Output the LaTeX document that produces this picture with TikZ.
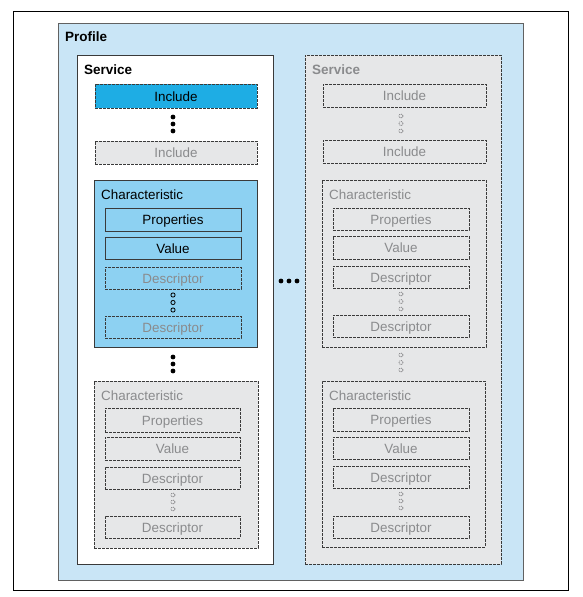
\documentclass[tikz,border=0pt]{standalone}
\usepackage{fontspec}
\setmainfont{Liberation Sans}
\definecolor{profblue}{HTML}{C9E5F6}
\definecolor{incblue}{HTML}{1EADE4}
\definecolor{charblue}{HTML}{8DD1F2}
\definecolor{greyfill}{HTML}{E6E7E8}
\definecolor{greytext}{HTML}{8A8B8D}
\definecolor{edge}{HTML}{3A3A3A}
\newcommand\mybx[7]{\node[#6, minimum width={(#4)-(#2)}, minimum height={(#5)-(#3)}] (#1) at ({((#2)+(#4))/2},{((#3)+(#5))/2}) {#7};}
\tikzset{
  base/.style={rectangle, inner sep=0pt, line width=0.9pt, draw=edge, text height=10pt, text depth=0pt, font=\fontsize{13.4}{15}\selectfont},
  solidbox/.style={base},
  dashbox/.style={base, dash pattern=on 2.6pt off 1.4pt},
  lbl/.style={inner sep=0pt, anchor=base west, font=\fontsize{13.4}{15}\selectfont},
  blbl/.style={lbl, font=\fontsize{13.5}{15}\selectfont\bfseries},
  fdot/.style={circle, fill=black, inner sep=0pt, minimum size=4.8pt},
  hdot/.style={circle, draw=black, line width=0.8pt, inner sep=0pt, minimum size=4.2pt},
  gdot/.style={circle, draw=greytext!70!black, line width=0.6pt, dash pattern=on 1pt off 0.9pt, inner sep=0pt, minimum size=4pt},
}
\begin{document}
\begin{tikzpicture}[x=1pt,y=-1pt]
\useasboundingbox (0,0) rectangle (583,597);
% outer frame
\mybx{frame}{13}{11}{568}{590}{base, line width=1pt, draw=black}{}
% profile
\mybx{profile}{58}{23}{523}{580}{solidbox, fill=profblue, draw=edge!80}{}
\node[blbl] (profilelbl) at (65,41) {Profile};
% ---------- left service ----------
\mybx{svcL}{77}{55}{273}{564}{solidbox, fill=white}{}
\node[blbl] (svcLlbl) at (84,74) {Service};
\mybx{incL1}{95}{84}{257}{108}{dashbox, fill=incblue}{Include}
\node[fdot] (dL1) at (173,117) {};
\node[fdot] (dL2) at (173,124) {};
\node[fdot] (dL3) at (173,131) {};
\mybx{incL2}{95}{141}{257}{164}{dashbox, fill=greyfill, text=greytext}{Include}
% blue characteristic
\mybx{chL1}{94}{180}{257}{347}{solidbox, fill=charblue}{}
\node[lbl] (chL1lbl) at (101,199) {Characteristic};
\mybx{propL1}{105}{208}{241}{231}{solidbox, fill=charblue}{Properties}
\mybx{valL1}{105}{237}{241}{259}{solidbox, fill=charblue}{Value}
\mybx{desL1a}{105}{267}{241}{289}{dashbox, fill=charblue, text=greytext}{Descriptor}
\node[hdot] (hL1) at (173,295) {};
\node[hdot] (hL2) at (173,302.5) {};
\node[hdot] (hL3) at (173,310) {};
\mybx{desL1b}{105}{316}{241}{338}{dashbox, fill=charblue, text=greytext}{Descriptor}
\node[fdot] (dL4) at (173,357) {};
\node[fdot] (dL5) at (173,364) {};
\node[fdot] (dL6) at (173,371) {};
% grey characteristic
\mybx{chL2}{94}{381}{258}{548}{dashbox, fill=greyfill}{}
\node[lbl, text=greytext] (chL2lbl) at (101,400) {Characteristic};
\mybx{propL2}{105}{408}{240}{432}{dashbox, fill=greyfill, text=greytext}{Properties}
\mybx{valL2}{105}{437}{240}{460}{dashbox, fill=greyfill, text=greytext}{Value}
\mybx{desL2a}{105}{467}{240}{489}{dashbox, fill=greyfill, text=greytext}{Descriptor}
\node[gdot] (gL1) at (173,495) {};
\node[gdot] (gL2) at (173,502) {};
\node[gdot] (gL3) at (173,509) {};
\mybx{desL2b}{105}{516}{240}{538}{dashbox, fill=greyfill, text=greytext}{Descriptor}
% ellipsis
\node[fdot] (e1) at (281,281) {};
\node[fdot] (e2) at (289,281) {};
\node[fdot] (e3) at (297,281) {};
% ---------- right service ----------
\mybx{svcR}{305}{55}{501}{564}{dashbox, fill=greyfill}{}
\node[blbl, text=greytext] (svcRlbl) at (312,74) {Service};
\mybx{incR1}{323}{84}{486}{107}{dashbox, fill=greyfill, text=greytext}{Include}
\node[gdot] (gR1) at (401,116) {};
\node[gdot] (gR2) at (401,123.5) {};
\node[gdot] (gR3) at (401,131) {};
\mybx{incR2}{323}{140}{486}{163}{dashbox, fill=greyfill, text=greytext}{Include}
\mybx{chR1}{322}{180}{486}{347}{dashbox, fill=greyfill}{}
\node[lbl, text=greytext] (chR1lbl) at (329,199) {Characteristic};
\mybx{propR1}{333}{208}{469}{230}{dashbox, fill=greyfill, text=greytext}{Properties}
\mybx{valR1}{333}{236}{469}{259}{dashbox, fill=greyfill, text=greytext}{Value}
\mybx{desR1a}{333}{266}{469}{288}{dashbox, fill=greyfill, text=greytext}{Descriptor}
\node[gdot] (gR4) at (401,294) {};
\node[gdot] (gR5) at (401,301.5) {};
\node[gdot] (gR6) at (401,309) {};
\mybx{desR1b}{333}{315}{469}{337}{dashbox, fill=greyfill, text=greytext}{Descriptor}
\node[gdot] (gR7) at (401,355) {};
\node[gdot] (gR8) at (401,362.5) {};
\node[gdot] (gR9) at (401,370) {};
\mybx{chR2}{322}{381}{485}{547}{dashbox, fill=greyfill}{}
\node[lbl, text=greytext] (chR2lbl) at (329,400) {Characteristic};
\mybx{propR2}{333}{408}{469}{431}{dashbox, fill=greyfill, text=greytext}{Properties}
\mybx{valR2}{333}{437}{469}{459}{dashbox, fill=greyfill, text=greytext}{Value}
\mybx{desR2a}{333}{466}{469}{488}{dashbox, fill=greyfill, text=greytext}{Descriptor}
\node[gdot] (gR10) at (401,494) {};
\node[gdot] (gR11) at (401,501) {};
\node[gdot] (gR12) at (401,508) {};
\mybx{desR2b}{333}{516}{469}{538}{dashbox, fill=greyfill, text=greytext}{Descriptor}
\end{tikzpicture}
\end{document}
